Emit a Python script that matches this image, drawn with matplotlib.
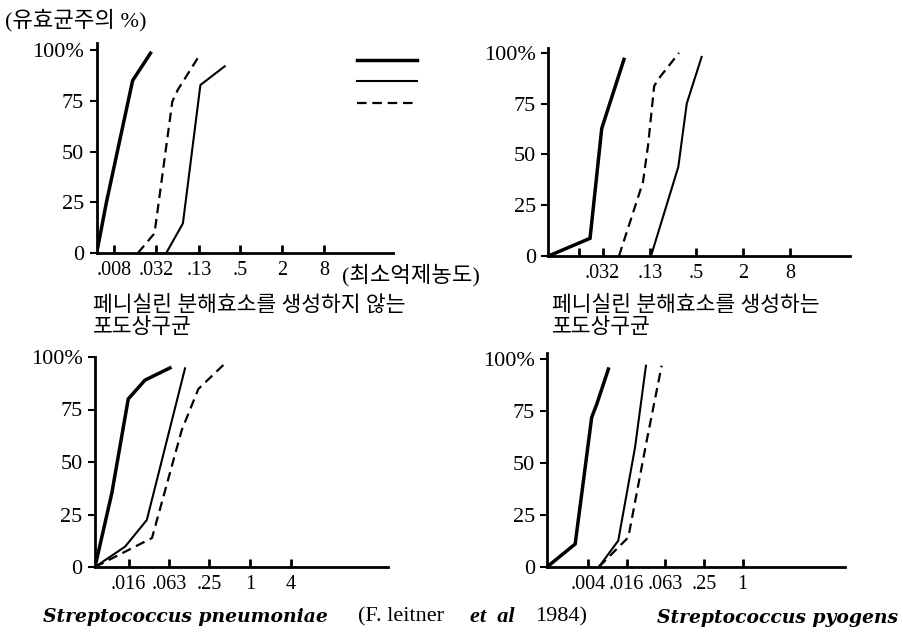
import matplotlib
matplotlib.use('Agg')
import matplotlib.pyplot as plt
from matplotlib.lines import Line2D

plt.rcParams['font.family'] = ['Liberation Serif', 'Noto Sans CJK KR']

# MIC (x, concentration) vs. % of susceptible strains (y)
# panel 1: non-penicillinase staphylococci
p1_thick_x = [0.0045, 0.0062, 0.0147, 0.0265]
p1_thick_y = [0, 25, 85, 98.5]
p1_thin_x = [0.0445, 0.077, 0.137, 0.305]
p1_thin_y = [0, 14.6, 82.8, 92]
p1_dash_x = [0.0175, 0.0302, 0.0543, 0.065, 0.134]
p1_dash_y = [0, 9.7, 74.6, 80.4, 97.6]

# panel 2: penicillinase staphylococci
p2_thick_x = [0.0065, 0.0221, 0.0312, 0.060]
p2_thick_y = [0, 8.7, 62.8, 96.8]
p2_thin_x = [0.133, 0.297, 0.381, 0.59]
p2_thin_y = [0, 43.9, 75.1, 98]
p2_dash_x = [0.0518, 0.105, 0.122, 0.146, 0.173, 0.303]
p2_dash_y = [0, 36.4, 54.6, 83.7, 88.1, 100]

# panel 3: S. pneumoniae
p3_thick_x = [0.00505, 0.00897, 0.0157, 0.0278, 0.0652]
p3_thick_y = [0, 35.2, 80, 89, 94.8]
p3_thin_x = [0.00505, 0.0141, 0.0296, 0.109]
p3_thin_y = [0, 9.7, 22.4, 94.6]
p3_dash_x = [0.00505, 0.0353, 0.0975, 0.172, 0.403]
p3_dash_y = [0, 13.8, 65.2, 84.8, 96.2]

# panel 4: S. pyogenes
p4_thick_x = [0.00094, 0.00254, 0.00458, 0.0055, 0.00831]
p4_thick_y = [0, 10.9, 71.8, 78.2, 95]
p4_thin_x = [0.00595, 0.0118, 0.0215, 0.0317]
p4_thin_y = [0, 12.5, 57.4, 96.6]
p4_dash_x = [0.00595, 0.0169, 0.0326, 0.0555]
p4_dash_y = [0, 14.1, 60.6, 96.6]

p1_ticks = [0.008, 0.032, 0.13, 0.5, 2, 8]
p1_labels = ['.008', '.032', '.13', '.5', '2', '8']
p2_ticks = [0.016, 0.032, 0.13, 0.5, 2, 8]
p2_labels = ['', '.032', '.13', '.5', '2', '8']
p3_ticks = [0.016, 0.063, 0.25, 1, 4]
p3_labels = ['.016', '.063', '.25', '1', '4']
p4_ticks = [0.004, 0.016, 0.063, 0.25, 1]
p4_labels = ['.004', '.016', '.063', '.25', '1']

y_ticks = [0, 25, 50, 75, 100]
y_labels = ['0', '25', '50', '75', '100%']

W, H = 904, 632
fig = plt.figure(figsize=(W / 100, H / 100), dpi=100)


def px_axes(left, right, bottom, top):
    # axes box given in reference pixel coords
    return fig.add_axes([left / W, 1 - bottom / H, (right - left) / W, (bottom - top) / H])


thick = dict(color='black', lw=2.5, solid_joinstyle='miter')
thin = dict(color='black', lw=1.5)
dash = dict(color='black', lw=1.6, dashes=(4.3, 2.6))

panels = [
    (px_axes(96.7, 393, 253, 43), (0.0045, 78), 103.5, p1_ticks, p1_labels,
     (p1_thick_x, p1_thick_y), (p1_thin_x, p1_thin_y), (p1_dash_x, p1_dash_y)),
    (px_axes(548.3, 850, 256, 48), (0.00647, 46.5), 102.4, p2_ticks, p2_labels,
     (p2_thick_x, p2_thick_y), (p2_thin_x, p2_thin_y), (p2_dash_x, p2_dash_y)),
    (px_axes(95, 388, 567, 357), (0.00505, 111), 100, p3_ticks, p3_labels,
     (p3_thick_x, p3_thick_y), (p3_thin_x, p3_thin_y), (p3_dash_x, p3_dash_y)),
    (px_axes(547.3, 845, 566.7, 353), (0.00094, 38.4), 102.7, p4_ticks, p4_labels,
     (p4_thick_x, p4_thick_y), (p4_thin_x, p4_thin_y), (p4_dash_x, p4_dash_y)),
]

for ax, xlim, ytop, xt, xl, s_thick, s_thin, s_dash in panels:
    ax.plot(*s_thick, **thick)
    ax.plot(*s_thin, **thin)
    ax.plot(*s_dash, **dash)
    ax.set_xscale('log', base=2)
    ax.set_xlim(*xlim)
    ax.set_ylim(0, ytop)
    ax.set_xticks(xt)
    ax.set_xticklabels(xl)
    ax.minorticks_off()
    ax.set_yticks(y_ticks)
    ax.set_yticklabels(y_labels)
    for s in ['top', 'right']:
        ax.spines[s].set_visible(False)
    for s in ['left', 'bottom']:
        ax.spines[s].set_linewidth(2.0)
    ax.tick_params(axis='x', direction='in', length=6, width=2, pad=6, labelsize=14.5)
    ax.tick_params(axis='y', direction='out', length=5, width=1.5, pad=4, labelsize=16)
    ax.patch.set_alpha(0)

# legend (three line styles, no labels)
handles = [Line2D([], [], **thick), Line2D([], [], **thin), Line2D([], [], **dash)]
fig.legend(handles, ['', '', ''], loc='upper left', bbox_to_anchor=(357 / W, 1 - 53 / H),
           frameon=False, fontsize=14, handlelength=3.1, handletextpad=0,
           labelspacing=0.2, borderpad=0, borderaxespad=0)

fig.text(5 / W, 1 - 20 / H, '(유효균주의 %)', fontsize=16, ha='left', va='center')
fig.text(342 / W, 1 - 275 / H, '(최소억제농도)', fontsize=16, ha='left', va='center')
fig.text(93 / W, 1 - 296 / H, '페니실린 분해효소를 생성하지 않는\n포도상구균',
         fontsize=15.5, ha='left', va='top', linespacing=1.15)
fig.text(552 / W, 1 - 296 / H, '페니실린 분해효소를 생성하는\n포도상구균',
         fontsize=15.5, ha='left', va='top', linespacing=1.15)

sp = dict(family='DejaVu Serif', style='italic', weight='bold', fontsize=13.5, va='center')
fig.text(43 / W, 1 - 617 / H, 'Streptococcus pneumoniae', ha='left', **sp)
fig.text(898 / W, 1 - 618 / H, 'Streptococcus pyogens', ha='right', **sp)

# citation: plain / bold italic / plain
fig.text(358 / W, 1 - 617 / H, '(F. leitner', fontsize=16, ha='left', va='center')
fig.text(470 / W, 1 - 617 / H, 'et  al', fontsize=16, style='italic', weight='bold',
         ha='left', va='center')
fig.text(535 / W, 1 - 617 / H, '1984)', fontsize=16, ha='left', va='center')

fig.savefig('out.png', dpi=100)
